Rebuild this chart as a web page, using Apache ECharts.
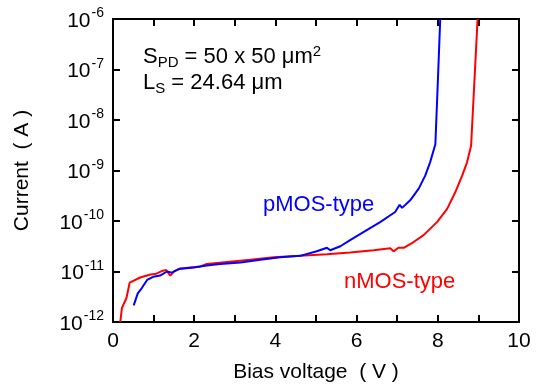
<!DOCTYPE html>
<html>
<head>
<meta charset="utf-8">
<script src="https://cdn.jsdelivr.net/npm/echarts@6/dist/echarts.min.js"></script>
<style>
  html, body {margin: 0; padding: 0; background: #fff;}
  #chart {width: 539px; height: 388px;}
</style>
</head>
<body>
<div id="chart"></div>
<script>
// bias voltage (V) and current (A)
const pmosV = [0.51, 0.61, 0.71, 0.84, 1.0, 1.16, 1.33, 1.45, 1.62, 1.99, 2.31, 2.64, 3.14, 3.63, 4.12, 4.61, 5.02, 5.27, 5.35, 5.6, 5.84, 6.25, 6.58, 6.95, 7.06, 7.12, 7.32, 7.53, 7.69, 7.81, 7.94, 8.0, 8.06];
const pmosI = [2.14e-12, 3.7e-12, 4.7e-12, 6.8e-12, 7.9e-12, 8.3e-12, 1.0e-11, 9.5e-12, 1.12e-11, 1.2e-11, 1.32e-11, 1.41e-11, 1.51e-11, 1.7e-11, 1.91e-11, 2.04e-11, 2.51e-11, 2.95e-11, 2.63e-11, 3.16e-11, 4.17e-11, 6.6e-11, 9.5e-11, 1.51e-10, 2.09e-10, 1.82e-10, 2.57e-10, 4.37e-10, 7.9e-10, 1.45e-9, 3.3e-9, 5.5e-8, 1e-6];

const nmosV = [0.18, 0.22, 0.33, 0.41, 0.67, 0.92, 1.04, 1.2, 1.31, 1.41, 1.51, 1.66, 2.15, 2.31, 2.81, 3.38, 3.96, 4.61, 5.27, 5.84, 6.42, 6.83, 6.91, 7.03, 7.16, 7.36, 7.65, 7.98, 8.23, 8.43, 8.6, 8.72, 8.82, 8.9, 8.98];
const nmosI = [1.0e-12, 1.9e-12, 2.95e-12, 6.0e-12, 7.6e-12, 8.7e-12, 8.9e-12, 1.02e-11, 1.07e-11, 8.3e-12, 1.02e-11, 1.15e-11, 1.26e-11, 1.41e-11, 1.55e-11, 1.7e-11, 1.91e-11, 2.04e-11, 2.19e-11, 2.38e-11, 2.63e-11, 2.88e-11, 2.51e-11, 2.95e-11, 2.95e-11, 3.63e-11, 5.25e-11, 9.5e-11, 1.74e-10, 3.7e-10, 7.9e-10, 1.45e-9, 3.1e-9, 5.5e-8, 1e-6];

const xLabels = [0, 2, 4, 6, 8, 10];
const yMin = 1e-12;
const yMax = 1e-6;

const font = '"Liberation Sans", Arial, Helvetica, sans-serif';
const pair = (xs, ys) => xs.map((x, i) => [x, ys[i]]);

const chart = echarts.init(document.getElementById('chart'), null, {renderer: 'canvas'});

const frameLine = {show: true, onZero: false, lineStyle: {color: '#000', width: 2}};
const innerTick = {show: true, inside: true, length: 7, lineStyle: {color: '#000', width: 2}};

chart.setOption({
  backgroundColor: '#fff',
  animation: false,
  textStyle: {fontFamily: font},
  grid: {left: 113, right: 20, top: 19, bottom: 64},
  xAxis: [{
    type: 'value',
    min: 0,
    max: 10,
    interval: 1,
    name: 'Bias voltage  ( V )',
    nameLocation: 'middle',
    nameGap: 40,
    nameTextStyle: {color: '#000', fontSize: 21, fontFamily: font},
    axisLine: frameLine,
    axisTick: innerTick,
    splitLine: {show: false},
    axisLabel: {
      color: '#000', fontSize: 21, fontFamily: font, margin: 9,
      formatter: v => xLabels.includes(v) ? String(v) : '',
    },
  }, {
    type: 'value',
    position: 'top',
    min: 0,
    max: 10,
    interval: 1,
    axisLine: frameLine,
    axisTick: innerTick,
    axisLabel: {show: false},
    splitLine: {show: false},
  }],
  yAxis: [{
    type: 'log',
    logBase: 10,
    min: yMin,
    max: yMax,
    name: 'Current  ( A )',
    nameLocation: 'middle',
    nameGap: 80,
    nameRotate: 90,
    nameTextStyle: {color: '#000', fontSize: 21, fontFamily: font},
    axisLine: frameLine,
    axisTick: innerTick,
    splitLine: {show: false},
    axisLabel: {
      margin: 9,
      formatter: v => '{b|10}{s|' + Math.round(Math.log10(v)) + '}',
      rich: {
        b: {fontSize: 21, color: '#000', fontFamily: font, padding: [4, 0, 0, 0]},
        s: {fontSize: 14, color: '#000', fontFamily: font, verticalAlign: 'top', padding: [0, 0, 8, 1]},
      },
    },
  }, {
    type: 'log',
    logBase: 10,
    min: yMin,
    max: yMax,
    position: 'right',
    axisLine: frameLine,
    axisTick: innerTick,
    axisLabel: {show: false},
    splitLine: {show: false},
  }],
  series: [{
    name: 'pMOS-type',
    type: 'line',
    data: pair(pmosV, pmosI),
    showSymbol: false,
    clip: true,
    lineStyle: {color: '#0000ff', width: 2},
    z: 3,
  }, {
    name: 'nMOS-type',
    type: 'line',
    data: pair(nmosV, nmosI),
    showSymbol: false,
    clip: true,
    lineStyle: {color: '#ff0000', width: 2},
    z: 2,
  }],
  graphic: [{
    type: 'text',
    left: 143,
    top: 44,
    style: {
      text: 'S{sub|PD} = 50 x 50 μm{sup|2}\nL{sub|S} = 24.64 μm',
      font: '22px ' + font,
      fill: '#000',
      lineHeight: 26,
      rich: {
        sub: {fontSize: 15, fill: '#000', verticalAlign: 'bottom', padding: [6, 0, 0, 0], lineHeight: 26},
        sup: {fontSize: 15, fill: '#000', verticalAlign: 'top', padding: [0, 0, 8, 0], lineHeight: 26},
      },
    },
  }, {
    type: 'text',
    left: 263,
    top: 194,
    style: {text: 'pMOS-type', font: '22px ' + font, fill: '#0000ff'},
  }, {
    type: 'text',
    left: 344,
    top: 271,
    style: {text: 'nMOS-type', font: '22px ' + font, fill: '#ff0000'},
  }],
});
</script>
</body>
</html>
